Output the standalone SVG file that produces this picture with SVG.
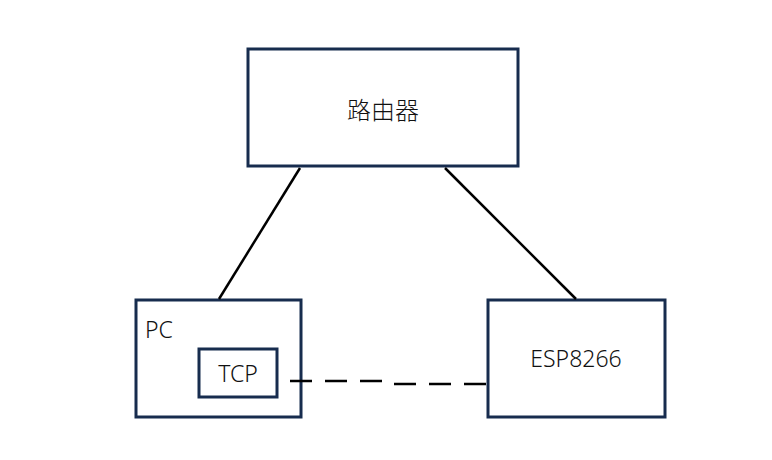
<svg xmlns="http://www.w3.org/2000/svg" width="772" height="460" viewBox="0 0 772 460">
<style>
.box{fill:#fff;stroke:#172c4e;stroke-width:3}
.lbl{font-family:"Noto Sans","Liberation Sans","Noto Sans CJK SC",sans-serif;font-size:23px;fill:#111;font-weight:300}
.cn{font-family:"Noto Sans CJK SC",sans-serif;font-size:24px;fill:#111;font-weight:300}
.ln{stroke:#000;stroke-width:2.5;fill:none}
</style>
<rect width="772" height="460" fill="#fff"/>
<g id="router">
<rect class="box" x="248" y="49" width="270" height="117"/>
<text class="cn" x="383" y="119" text-anchor="middle">路由器</text>
</g>
<g id="pc">
<rect class="box" x="136" y="300" width="165" height="117"/>
<text class="lbl" x="145" y="338">PC</text>
</g>
<g id="tcp">
<rect class="box" x="199" y="349" width="78" height="48"/>
<text class="lbl" x="238" y="382" text-anchor="middle">TCP</text>
</g>
<g id="esp8266">
<rect class="box" x="488" y="300" width="177" height="117"/>
<text class="lbl" x="576" y="367" text-anchor="middle">ESP8266</text>
</g>
<g id="connectors">
<line class="ln" x1="300" y1="168" x2="219" y2="299"/>
<line class="ln" x1="445" y1="168" x2="576" y2="299"/>
<path class="ln" d="M290,381 H390 L394,384 H487" stroke-dasharray="22 13"/>
</g>
</svg>
